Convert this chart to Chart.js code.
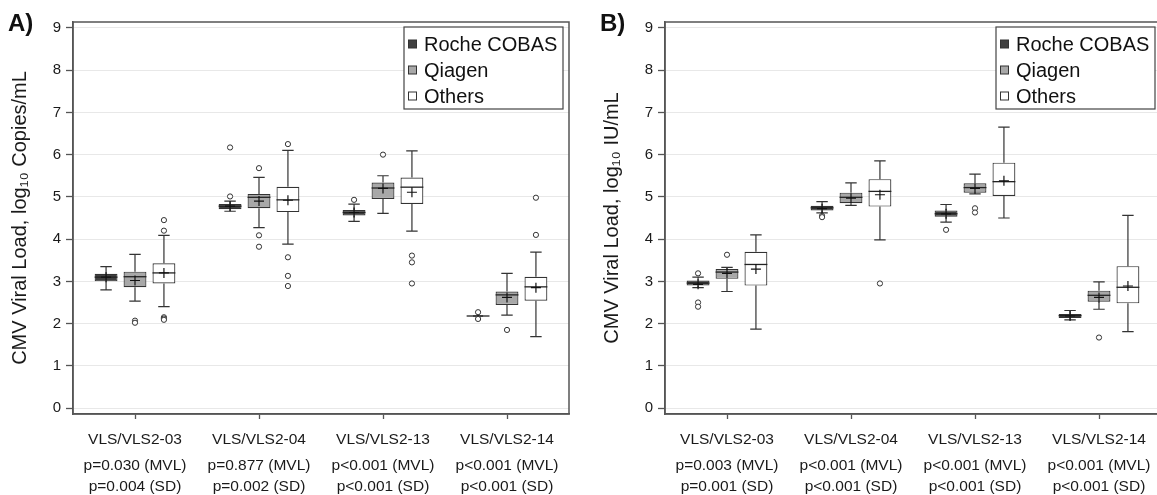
<!DOCTYPE html>
<html>
<head>
<meta charset="utf-8">
<script src="https://cdn.jsdelivr.net/npm/chart.js@4"></script>
<style>
html,body{margin:0;padding:0;background:#fff;overflow:hidden;}
#wrap{position:relative;width:1157px;height:495px;overflow:hidden;background:#fff;}
.panel{position:absolute;top:0;width:580px;height:495px;}
.tag{position:absolute;font:bold 24px "Liberation Sans",Arial,sans-serif;color:#111;line-height:28px;}
</style>
</head>
<body>
<div id="wrap">
  <div class="panel" style="left:0px"><canvas id="chartA" width="580" height="495"></canvas></div>
  <div class="panel" style="left:592px"><canvas id="chartB" width="580" height="495"></canvas></div>
  <div class="tag" style="left:8px;top:9px">A)</div>
  <div class="tag" style="left:600px;top:9px">B)</div>
</div>
<script>
// ---------- data ----------
const categories = ['VLS/VLS2-03', 'VLS/VLS2-04', 'VLS/VLS2-13', 'VLS/VLS2-14'];
const seriesNames = ['Roche COBAS', 'Qiagen', 'Others'];
const seriesColors = ['#404040', '#a8a8a8', '#ffffff'];
const yTickValues = [0, 1, 2, 3, 4, 5, 6, 7, 8, 9];

const pMVL_A = ['p=0.030 (MVL)', 'p=0.877 (MVL)', 'p<0.001 (MVL)', 'p<0.001 (MVL)'];
const pSD_A  = ['p=0.004 (SD)', 'p=0.002 (SD)', 'p<0.001 (SD)', 'p<0.001 (SD)'];
const pMVL_B = ['p=0.003 (MVL)', 'p<0.001 (MVL)', 'p<0.001 (MVL)', 'p<0.001 (MVL)'];
const pSD_B  = ['p=0.001 (SD)', 'p<0.001 (SD)', 'p<0.001 (SD)', 'p<0.001 (SD)'];

// each row: [whiskerLow, Q1, median, Q3, whiskerHigh, mean]
const rocheA  = [[2.80, 3.00, 3.10, 3.18, 3.35, 3.10], [4.66, 4.71, 4.78, 4.83, 4.90, 4.78], [4.42, 4.56, 4.63, 4.69, 4.83, 4.63], [2.18, 2.18, 2.18, 2.18, 2.18, 2.18]];
const qiagenA = [[2.53, 2.86, 3.11, 3.23, 3.64, 3.02], [4.27, 4.73, 4.99, 5.07, 5.46, 4.90], [4.61, 4.95, 5.21, 5.34, 5.50, 5.20], [2.20, 2.44, 2.68, 2.76, 3.19, 2.62]];
const othersA = [[2.40, 2.95, 3.20, 3.43, 4.09, 3.20], [3.88, 4.64, 4.93, 5.24, 6.10, 4.92], [4.19, 4.83, 5.23, 5.46, 6.09, 5.11], [1.69, 2.54, 2.87, 3.11, 3.69, 2.85]];
const rocheA_out  = [[], [6.17, 5.01], [4.93], [2.27, 2.11]];
const qiagenA_out = [[2.07, 2.02], [5.68, 4.09, 3.82], [6.00], [1.85]];
const othersA_out = [[4.45, 4.20, 2.15, 2.12, 2.09], [6.25, 3.57, 3.13, 2.89], [3.61, 3.45, 2.95], [4.98, 4.10]];

const rocheB  = [[2.85, 2.90, 2.96, 3.02, 3.10, 2.93], [4.62, 4.68, 4.74, 4.79, 4.89, 4.72], [4.40, 4.53, 4.60, 4.68, 4.82, 4.60], [2.09, 2.13, 2.19, 2.23, 2.31, 2.18]];
const qiagenB = [[2.76, 3.06, 3.22, 3.29, 3.33, 3.19], [4.80, 4.85, 4.99, 5.10, 5.33, 4.97], [5.07, 5.10, 5.22, 5.32, 5.54, 5.20], [2.34, 2.52, 2.67, 2.78, 2.99, 2.62]];
const othersB = [[1.87, 2.90, 3.40, 3.70, 4.10, 3.29], [3.98, 4.77, 5.13, 5.42, 5.85, 5.05], [4.50, 5.02, 5.36, 5.81, 6.65, 5.38], [1.81, 2.48, 2.86, 3.36, 4.56, 2.89]];
const rocheB_out  = [[3.19, 2.50, 2.40], [4.55, 4.52], [4.22], []];
const qiagenB_out = [[3.63], [], [4.73, 4.63], [1.67]];
const othersB_out = [[], [2.95], [], []];

// ---------- rendering ----------
const FONT = '"Liberation Sans", Arial, Helvetica, sans-serif';
Chart.defaults.font.family = FONT;
Chart.defaults.color = '#1a1a1a';

const INK = '#333333';

const boxPlotPlugin = {
  id: 'boxPlot',
  beforeDatasetsDraw(chart) {
    const ctx = chart.ctx, y = chart.scales.y;
    ctx.save();
    ctx.strokeStyle = INK;
    ctx.lineWidth = 1.2;
    chart.data.datasets.forEach((ds, di) => {
      const meta = chart.getDatasetMeta(di);
      meta.data.forEach((el, i) => {
        const s = ds.stats[i];
        const cap = el.width * 0.5;
        const yLo = y.getPixelForValue(s[0]), yQ1 = y.getPixelForValue(s[1]);
        const yQ3 = y.getPixelForValue(s[3]), yHi = y.getPixelForValue(s[4]);
        ctx.beginPath();
        if (yLo - yQ1 > 0.5) {
          ctx.moveTo(el.x, yQ1); ctx.lineTo(el.x, yLo);
          ctx.moveTo(el.x - cap / 2, yLo); ctx.lineTo(el.x + cap / 2, yLo);
        }
        if (yQ3 - yHi > 0.5) {
          ctx.moveTo(el.x, yQ3); ctx.lineTo(el.x, yHi);
          ctx.moveTo(el.x - cap / 2, yHi); ctx.lineTo(el.x + cap / 2, yHi);
        }
        ctx.stroke();
      });
    });
    ctx.restore();
  },
  afterDatasetsDraw(chart) {
    const ctx = chart.ctx, y = chart.scales.y;
    ctx.save();
    chart.data.datasets.forEach((ds, di) => {
      const meta = chart.getDatasetMeta(di);
      meta.data.forEach((el, i) => {
        const s = ds.stats[i];
        const half = el.width / 2;
        // median
        const yMed = y.getPixelForValue(s[2]);
        ctx.strokeStyle = '#222';
        ctx.lineWidth = 1.3;
        ctx.beginPath();
        ctx.moveTo(el.x - half, yMed); ctx.lineTo(el.x + half, yMed);
        ctx.stroke();
        // mean +
        const yMean = y.getPixelForValue(s[5]);
        ctx.lineWidth = 1.2;
        ctx.strokeStyle = '#111';
        ctx.beginPath();
        ctx.moveTo(el.x - 5, yMean); ctx.lineTo(el.x + 5, yMean);
        ctx.moveTo(el.x, yMean - 5); ctx.lineTo(el.x, yMean + 5);
        ctx.stroke();
        // outliers
        ctx.strokeStyle = INK;
        ctx.fillStyle = '#fff';
        ctx.lineWidth = 1;
        (ds.outliers[i] || []).forEach(v => {
          ctx.beginPath();
          ctx.arc(el.x, y.getPixelForValue(v), 2.6, 0, Math.PI * 2);
          ctx.fill();
          ctx.stroke();
        });
      });
    });
    ctx.restore();
  }
};

const framePlugin = {
  id: 'frame',
  afterDraw(chart) {
    const ctx = chart.ctx, ca = chart.chartArea;
    ctx.save();
    ctx.strokeStyle = '#555';
    ctx.lineWidth = 1.5;
    ctx.strokeRect(ca.left, ca.top, ca.right - ca.left, ca.bottom - ca.top);
    // legend
    const w = 159, h = 82;
    const x = ca.right - 6 - w, top = ca.top + 5;
    ctx.fillStyle = '#fff';
    ctx.fillRect(x, top, w, h);
    ctx.strokeStyle = '#444';
    ctx.lineWidth = 1.2;
    ctx.strokeRect(x, top, w, h);
    ctx.font = '20px ' + FONT;
    ctx.textBaseline = 'middle';
    ctx.textAlign = 'left';
    chart.data.datasets.forEach((ds, i) => {
      const cy = top + 17 + i * 26;
      ctx.fillStyle = ds.backgroundColor;
      ctx.fillRect(x + 4.5, cy - 4, 8, 8);
      ctx.strokeStyle = '#333';
      ctx.lineWidth = 1;
      ctx.strokeRect(x + 4.5, cy - 4, 8, 8);
      ctx.fillStyle = '#111';
      ctx.fillText(ds.label, x + 20, cy + 1);
    });
    ctx.restore();
  }
};

function makeChart(id, yTitle, stats, outs, pMVL, pSD) {
  const datasets = seriesNames.map((name, k) => ({
    label: name,
    data: stats[k].map(s => [s[1], s[3]]),
    stats: stats[k],
    outliers: outs[k],
    backgroundColor: seriesColors[k],
    borderColor: INK,
    borderWidth: 1.2,
    borderSkipped: false,
    categoryPercentage: 0.70,
    barPercentage: 0.79
  }));
  return new Chart(document.getElementById(id), {
    type: 'bar',
    data: { labels: categories, datasets },
    options: {
      responsive: false,
      animation: false,
      layout: { padding: { left: 0, top: 22, right: 11, bottom: 0 } },
      plugins: { legend: { display: false }, tooltip: { enabled: false } },
      scales: {
        x: {
          type: 'category',
          offset: true,
          afterFit(s) { s.height = 35; },
          grid: { display: true, drawOnChartArea: false, offset: false, tickLength: 5, tickColor: '#555', tickWidth: 1.3 },
          border: { color: '#555', width: 1.5 },
          ticks: { font: { size: 15.5 }, padding: 11, color: '#1a1a1a', maxRotation: 0, autoSkip: false }
        },
        xp: {
          type: 'category',
          position: 'bottom',
          labels: categories,
          offset: true,
          afterFit(s) { s.height = 46; },
          grid: { display: false, drawTicks: false },
          border: { display: false },
          ticks: {
            font: { size: 15.5, lineHeight: 1.3 },
            padding: 7,
            color: '#1a1a1a',
            maxRotation: 0,
            autoSkip: false,
            callback: (v, i) => [pMVL[i], pSD[i]]
          }
        },
        y: {
          min: -0.14,
          max: 9.14,
          afterFit(s) { s.width = 73; },
          afterBuildTicks(s) { s.ticks = yTickValues.map(v => ({ value: v })); },
          grid: { color: '#e8e8e8', lineWidth: 1, tickColor: '#555', tickLength: 7, tickWidth: 1.3 },
          border: { color: '#555', width: 1.5 },
          ticks: { stepSize: 1, includeBounds: false, font: { size: 15 }, padding: 5, color: '#1a1a1a' },
          title: { display: true, text: yTitle, font: { size: 20 }, color: '#1a1a1a', padding: { top: 8, bottom: 0 } }
        }
      }
    },
    plugins: [boxPlotPlugin, framePlugin]
  });
}

makeChart('chartA', 'CMV Viral Load, log\u2081\u2080 Copies/mL',
  [rocheA, qiagenA, othersA], [rocheA_out, qiagenA_out, othersA_out], pMVL_A, pSD_A);
makeChart('chartB', 'CMV Viral Load, log\u2081\u2080 IU/mL',
  [rocheB, qiagenB, othersB], [rocheB_out, qiagenB_out, othersB_out], pMVL_B, pSD_B);
</script>
</body>
</html>
